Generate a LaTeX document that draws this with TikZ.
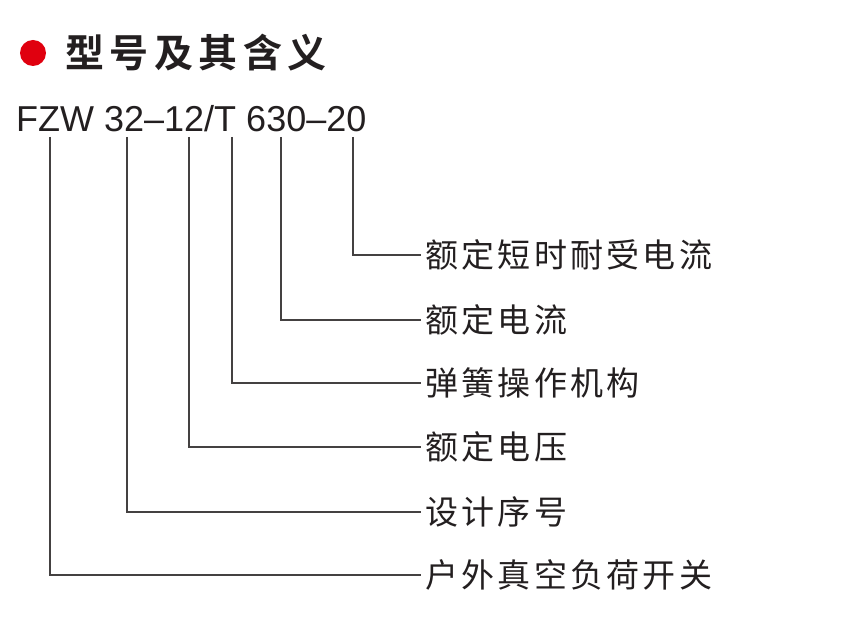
\documentclass[tikz,border=0pt]{standalone}
\usepackage{fontspec}
\usepackage{xcolor}
\usepackage{tikz}
\usetikzlibrary{positioning, calc}
\setmainfont{Liberation Sans}
\newfontfamily\cjk{Noto Sans CJK SC}[LetterSpace=10]
\newfontfamily\cjkbold{Noto Sans CJK SC Bold}[LetterSpace=14]
\definecolor{dotred}{HTML}{E0000F}
\definecolor{ink}{HTML}{231F20}
\tikzset{
    titlebox/.style={font=\cjkbold\fontsize{39}{44}\selectfont, text=ink, inner sep=0pt},
    model/.style={font=\fontsize{36}{42}\selectfont, text=ink, inner sep=0pt, anchor=base west},
    meaning/.style={font=\cjk\fontsize{33}{40}\selectfont, text=ink, inner ysep=0pt, inner xsep=4pt, anchor=west},
    leader/.style={draw=ink!85, line width=1.4pt},
}

\begin{document}
\begin{tikzpicture}[x=1pt, y=-1pt]
    \useasboundingbox[fill=white] (0,0) rectangle (841,617);

    % Title
    \node[circle, fill=dotred, minimum size=26pt, inner sep=0pt] (dot) at (33,53) {};
    \node[titlebox, right=19pt of dot] (title) {型号及其含义};

    % Model code
    \node[model] (code) at (16,132) {FZW 32--12/T 630--20};

    % Meanings
    \node[meaning] (m1) at (421,255) {额定短时耐受电流};
    \node[meaning] (m2) at (421,320) {额定电流};
    \node[meaning] (m3) at (421,383) {弹簧操作机构};
    \node[meaning] (m4) at (421,447) {额定电压};
    \node[meaning] (m5) at (421,512) {设计序号};
    \node[meaning] (m6) at (421,575) {户外真空负荷开关};

    % Leader tops under the code
    \coordinate (c1) at (353,137);
    \coordinate (c2) at (281,137);
    \coordinate (c3) at (232,137);
    \coordinate (c4) at (189,137);
    \coordinate (c5) at (127,137);
    \coordinate (c6) at (50,137);

    % Leaders
    \draw[leader] (c1) |- (m1.west);
    \draw[leader] (c2) |- (m2.west);
    \draw[leader] (c3) |- (m3.west);
    \draw[leader] (c4) |- (m4.west);
    \draw[leader] (c5) |- (m5.west);
    \draw[leader] (c6) |- (m6.west);
\end{tikzpicture}
\end{document}
